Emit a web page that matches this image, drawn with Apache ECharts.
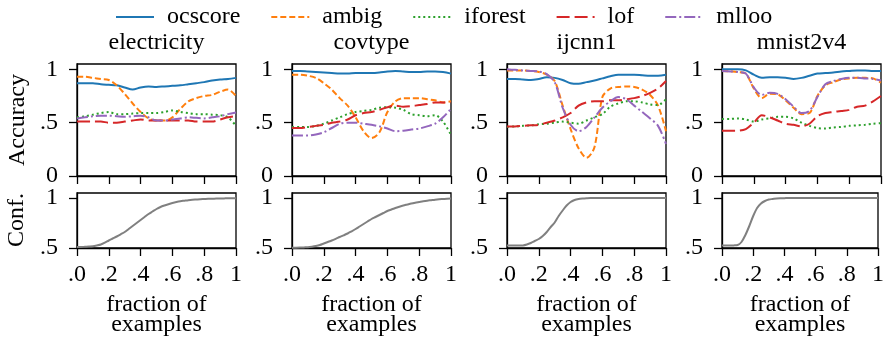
<!DOCTYPE html>
<html>
<head>
<meta charset="utf-8">
<script src="https://cdn.jsdelivr.net/npm/echarts@6/dist/echarts.min.js"></script>
<style>
  html, body { margin: 0; padding: 0; background: #fff; }
  #chart { width: 887px; height: 339px; }
</style>
</head>
<body>
<div id="chart"></div>
<script>
// fraction of examples (x) for the accuracy curves
var fracs = [0, .05, .1, .15, .2, .25, .3, .35, .4, .45, .5, .55, .6, .65, .7, .75, .8, .85, .9, .95, 1];
// finer x for the confidence curves
var confFracs = [0, .025, .05, .075, .1, .125, .15, .175, .2, .225, .25, .275, .3, .325, .35, .375, .4, .425, .45, .475, .5,
    .525, .55, .575, .6, .625, .65, .675, .7, .725, .75, .775, .8, .825, .85, .875, .9, .925, .95, .975, 1];

var datasets = ['electricity', 'covtype', 'ijcnn1', 'mnist2v4'];
var methods = ['ocscore', 'ambig', 'iforest', 'lof', 'mlloo'];

var accTickVals = [0, .5, 1];
var accTickLabels = ['0', '.5', '1'];
var confTickVals = [.5, 1];
var confTickLabels = ['.5', '1'];
var xTickLabels = ['.0', '.2', '.4', '.6', '.8', '1'];

// electricity
var elecOcscore = [.87, .87, .87, .86, .855, .85, .83, .81, .83, .84, .835, .84, .845, .85, .86, .87, .88, .895, .905, .91, .92];
var elecAmbig   = [.93, .93, .92, .91, .90, .85, .77, .68, .60, .54, .52, .52, .55, .63, .70, .73, .75, .76, .79, .81, .75];
var elecIforest = [.55, .56, .575, .59, .60, .58, .58, .585, .59, .59, .59, .60, .615, .60, .59, .58, .58, .575, .57, .55, .47];
var elecLof     = [.51, .51, .51, .51, .50, .50, .51, .52, .53, .52, .52, .52, .52, .52, .52, .51, .51, .51, .53, .55, .56];
var elecMlloo   = [.54, .55, .56, .565, .565, .56, .555, .56, .565, .55, .52, .52, .53, .54, .55, .545, .54, .55, .56, .58, .595];
var elecConf    = [.51, .51, .512, .514, .517, .525, .535, .553, .575, .595, .615, .637, .66, .69, .72, .75, .78, .81, .84, .865, .89,
    .91, .925, .938, .95, .96, .968, .973, .978, .982, .985, .988, .99, .992, .993, .994, .995, .996, .997, .997, .998];

// covtype
var covOcscore = [.985, .985, .98, .975, .97, .965, .96, .96, .965, .965, .965, .97, .98, .985, .98, .975, .975, .98, .98, .975, .96];
var covAmbig   = [.95, .95, .94, .92, .87, .81, .73, .66, .55, .42, .355, .41, .60, .70, .73, .73, .73, .72, .71, .69, .70];
var covIforest = [.46, .46, .46, .47, .49, .52, .55, .58, .60, .61, .62, .64, .645, .64, .62, .58, .57, .56, .57, .51, .385];
var covLof     = [.45, .45, .46, .47, .48, .50, .51, .53, .57, .59, .60, .62, .645, .66, .65, .655, .665, .675, .69, .69, .69];
var covMlloo   = [.38, .38, .38, .39, .41, .45, .49, .50, .50, .49, .48, .465, .445, .42, .425, .435, .445, .465, .49, .55, .63];
var covConf    = [.503, .503, .504, .506, .508, .513, .52, .53, .545, .56, .575, .592, .61, .627, .645, .667, .69, .715, .74, .765, .79,
    .81, .83, .85, .87, .885, .90, .913, .925, .935, .945, .953, .96, .967, .973, .978, .983, .987, .99, .993, .995];

// ijcnn1
var ijcOcscore = [.91, .91, .905, .90, .91, .925, .92, .90, .87, .865, .88, .895, .915, .935, .95, .95, .95, .945, .94, .94, .95];
var ijcAmbig   = [.99, .99, .99, .985, .975, .95, .89, .66, .44, .26, .17, .27, .74, .82, .835, .84, .835, .81, .76, .66, .42];
var ijcIforest = [.46, .465, .47, .475, .485, .49, .50, .51, .50, .49, .52, .55, .58, .65, .68, .70, .70, .69, .67, .665, .72];
var ijcLof     = [.465, .465, .47, .475, .48, .50, .52, .55, .59, .66, .69, .70, .70, .71, .71, .72, .73, .75, .78, .82, .89];
var ijcMlloo   = [1.0, .995, .99, .985, .98, .955, .88, .64, .48, .42, .46, .55, .64, .70, .74, .72, .66, .60, .54, .47, .30];
var ijcConf    = [.525, .525, .525, .525, .526, .535, .55, .57, .59, .62, .66, .71, .755, .82, .875, .925, .96, .98, .99, .995, .998,
    1, 1, 1, 1, 1, 1, 1, 1, 1, 1, 1, 1, 1, 1, 1, 1, 1, 1, 1, 1];

// mnist2v4
var mnOcscore = [1.0, 1.0, 1.0, .99, .95, .92, .925, .925, .92, .91, .92, .94, .96, .965, .97, .98, .985, .99, .99, .985, .985];
var mnAmbig   = [.985, .98, .975, .96, .82, .73, .77, .765, .71, .64, .58, .59, .75, .85, .88, .905, .915, .92, .92, .915, .875];
var mnIforest = [.535, .535, .54, .53, .51, .53, .54, .555, .555, .54, .50, .47, .45, .445, .455, .46, .47, .475, .48, .49, .495];
var mnLof     = [.425, .425, .425, .44, .50, .57, .55, .52, .49, .48, .465, .49, .56, .59, .60, .61, .62, .65, .66, .70, .75];
var mnMlloo   = [.985, .98, .975, .96, .83, .76, .78, .77, .72, .65, .59, .61, .74, .86, .89, .91, .92, .92, .915, .91, .895];
var mnConf    = [.525, .525, .525, .526, .53, .56, .63, .72, .82, .90, .945, .97, .985, .99, .995, .997, .998, 1, 1, 1, 1,
    1, 1, 1, 1, 1, 1, 1, 1, 1, 1, 1, 1, 1, 1, 1, 1, 1, 1, 1, 1];

var accData = [
    [elecOcscore, elecAmbig, elecIforest, elecLof, elecMlloo],
    [covOcscore, covAmbig, covIforest, covLof, covMlloo],
    [ijcOcscore, ijcAmbig, ijcIforest, ijcLof, ijcMlloo],
    [mnOcscore, mnAmbig, mnIforest, mnLof, mnMlloo]
];
var confData = [elecConf, covConf, ijcConf, mnConf];

var colors = ['#1f77b4', '#ff7f0e', '#2ca02c', '#d62728', '#9467bd'];
var dashes = ['solid', [6, 3], [2, 3], [13, 5], [11, 3, 2, 3]];

var font = 'Liberation Serif';
var fs = 24;
var panelLeft = [77, 292, 507, 722];
var panelW = 159;
var axisStyle = {color: '#000', width: 1.3};

var grids = [], xAxes = [], yAxes = [], series = [], graphics = [];

function pairs(xs, vals) {
    return xs.map(function (x, i) { return [x, vals[i]]; });
}

function txt(str, x, y, rot) {
    return {
        type: 'text', x: x, y: y, rotation: rot || 0,
        style: {text: str, fill: '#000', fontFamily: font, fontSize: fs, align: 'center', verticalAlign: 'middle'}
    };
}

panelLeft.forEach(function (left, p) {
    // top: accuracy, bottom: confidence
    grids.push({left: left, top: 64, width: panelW, height: 112, show: true, borderColor: '#000', borderWidth: 1.3, backgroundColor: 'transparent'});
    grids.push({left: left, top: 193, width: panelW, height: 55, show: true, borderColor: '#000', borderWidth: 1.3, backgroundColor: 'transparent'});

    [0, 1].forEach(function (row) {
        var gi = p * 2 + row;
        xAxes.push({
            type: 'value', gridIndex: gi, min: 0, max: 1, interval: 0.2,
            axisLine: {show: true, lineStyle: axisStyle},
            axisTick: {show: true, inside: false, length: 8, lineStyle: axisStyle},
            axisLabel: {
                show: row === 1, margin: 15, color: '#000', fontFamily: font, fontSize: fs,
                formatter: function (v) { return xTickLabels[Math.round(v / 0.2)]; }
            },
            splitLine: {show: false},
            name: row === 1 ? 'fraction of\nexamples' : '',
            nameLocation: 'middle', nameGap: 47,
            nameTextStyle: {color: '#000', fontFamily: font, fontSize: fs, lineHeight: 20}
        });
        var tv = row === 0 ? accTickVals : confTickVals;
        var tl = row === 0 ? accTickLabels : confTickLabels;
        yAxes.push({
            type: 'value', gridIndex: gi,
            min: row === 0 ? 0 : 0.5, max: 1.05,
            axisLine: {show: true, lineStyle: axisStyle},
            axisTick: {show: true, inside: false, length: 8, customValues: tv, lineStyle: axisStyle},
            axisLabel: {
                show: true, margin: 19, color: '#000', fontFamily: font, fontSize: fs, customValues: tv,
                formatter: function (v) { return tl[tv.indexOf(v)]; }
            },
            splitLine: {show: false}
        });
    });

    accData[p].forEach(function (vals, m) {
        series.push({
            name: methods[m], type: 'line', xAxisIndex: p * 2, yAxisIndex: p * 2,
            data: pairs(fracs, vals), smooth: 0.3, symbol: 'none', showSymbol: false,
            z: 2 + m,
            lineStyle: {color: colors[m], width: 2, type: dashes[m]},
            itemStyle: {color: colors[m]}
        });
    });
    series.push({
        name: 'conf', type: 'line', xAxisIndex: p * 2 + 1, yAxisIndex: p * 2 + 1,
        data: pairs(confFracs, confData[p]), smooth: 0.3, symbol: 'none',
        lineStyle: {color: '#808080', width: 2}
    });

    graphics.push(txt(datasets[p], left + panelW / 2, 43));
});

graphics.push(txt('Accuracy', 18, 120, Math.PI / 2));
graphics.push(txt('Conf.', 17, 220, Math.PI / 2));

var chart = echarts.init(document.getElementById('chart'), null, {renderer: 'canvas'});
chart.setOption({
    animation: false,
    backgroundColor: '#fff',
    legend: {
        data: methods, left: 110, top: 0, itemWidth: 38, itemHeight: 14, itemGap: 30,
        itemStyle: {opacity: 0},
        textStyle: {color: '#000', fontFamily: font, fontSize: fs, padding: [0, 0, 0, 8]}
    },
    grid: grids,
    xAxis: xAxes,
    yAxis: yAxes,
    series: series,
    graphic: graphics
});
</script>
</body>
</html>
